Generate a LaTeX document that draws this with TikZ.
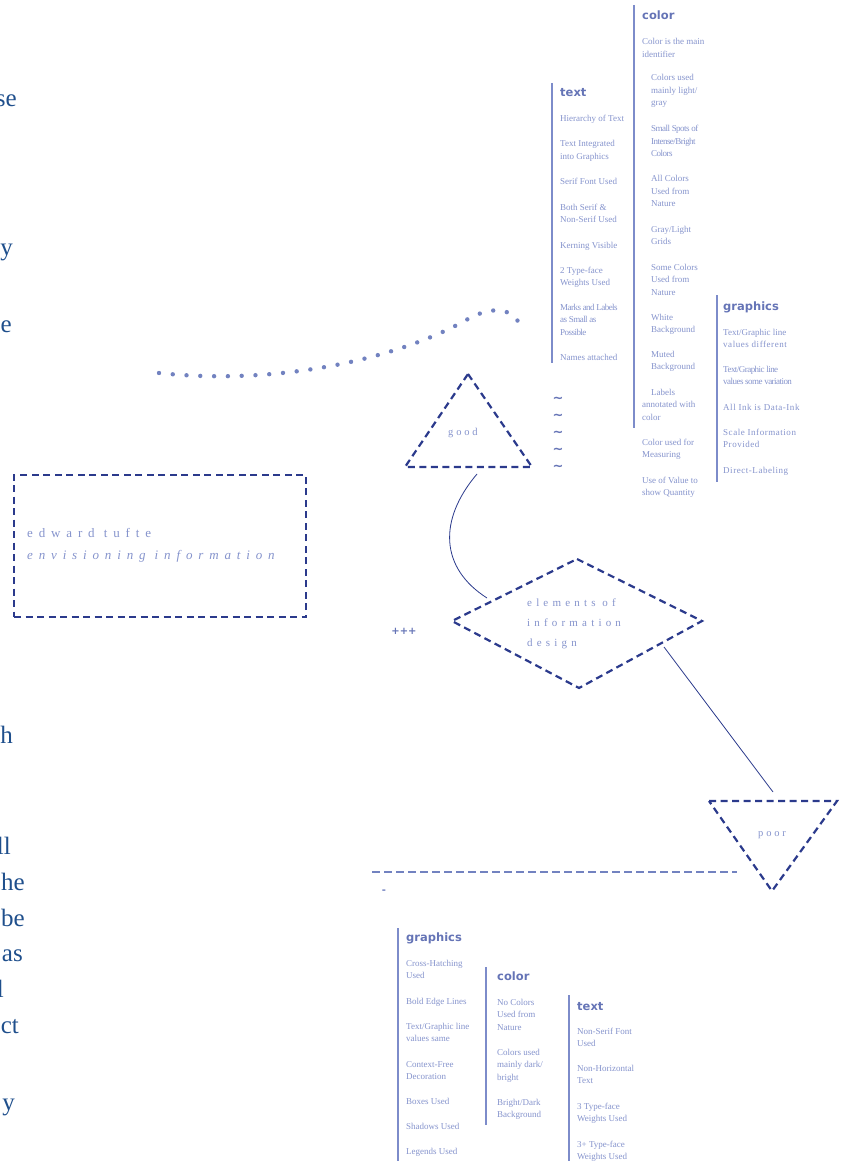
\documentclass[tikz,border=0pt]{standalone}
\usepackage{fontspec}
\setmainfont{Liberation Serif}
\newfontfamily\headfont{DejaVu Sans}
\newfontfamily\tightfont{Liberation Serif}[LetterSpace=-6]
\newfontfamily\loosefont{Liberation Serif}[LetterSpace=6]
\usetikzlibrary{positioning}
\usetikzlibrary{calc}
\definecolor{navy}{HTML}{2B3A8C}
\definecolor{headblue}{HTML}{6574B6}
\definecolor{listblue}{HTML}{8593CC}
\definecolor{barblue}{HTML}{7D8CCA}
\definecolor{dotblue}{HTML}{7282C0}
\definecolor{inkblue}{HTML}{1F4F8C}
\tikzset{colhead/.style={anchor=base west, inner sep=0pt, text=headblue, font=\headfont\bfseries\fontsize{11.5}{13}\selectfont}}
% base west of a list item is the baseline of its last line
\tikzset{listitem/.style={anchor=base west, inner sep=0pt, align=left, text=listblue, font=\fontsize{9}{12.5}\selectfont}}
\tikzset{colbar/.style={draw=barblue, line width=1.4pt}}
\tikzset{dashshape/.style={draw=navy, line width=2.2pt, dash pattern=on 7pt off 4.5pt}}
\tikzset{thinlink/.style={draw=navy, line width=0.8pt}}
\tikzset{spread/.style={inner sep=0pt, text=listblue}}
\tikzset{cutword/.style={anchor=base east, inner sep=0pt, text=inkblue, font=\fontsize{25}{30}\selectfont}}
\tikzset{mark sign/.style={inner sep=0pt, font=\headfont\bfseries\fontsize{10}{11}\selectfont}}

\begin{document}
\begin{tikzpicture}[x=1pt, y=-1pt]
        \useasboundingbox (0,0) rectangle (844,1161);

        % Cut words at the left edge
        \node[cutword] (cw1) at (17,107) {se};
        \node[cutword] (cw2) at (13,255) {y};
        \node[cutword] (cw3) at (12,332) {e};
        \node[cutword] (cw4) at (13,743) {h};
        \node[cutword] (cw5) at (11,854) {ll};
        \node[cutword] (cw6) at (25,890) {he};
        \node[cutword] (cw7) at (25,926) {be};
        \node[cutword] (cw8) at (23,961) {as};
        \node[cutword] (cw9) at (4,997) {l};
        \node[cutword] (cw10) at (19,1033) {ct};
        \node[cutword] (cw11) at (15,1110) {y};

        % Top columns
        \draw[colbar] (552,83) -- (552,363);
        \draw[colbar] (634,5) -- (634,428);
        \draw[colbar] (717,295) -- (717,482);

        \node[colhead] (texthead) at (560,97) {text};
        \node[listitem] (t1) at (560,122) {Hierarchy of Text};
        \node[listitem] (t2) at (560,159.5) {Text Integrated\\into Graphics};
        \node[listitem] (t3) at (560,185) {Serif Font Used};
        \node[listitem] (t4) at (560,222.5) {Both Serif \&\\Non-Serif Used};
        \node[listitem] (t5) at (560,248) {Kerning Visible};
        \node[listitem] (t6) at (560,285.5) {2 Type-face\\Weights Used};
        \node[listitem, font=\tightfont\fontsize{9}{12.5}\selectfont] (t7) at (560,335) {Marks and Labels\\as Small as\\Possible};
        \node[listitem] (t8) at (560,360) {Names attached};

        \node[colhead] (colorhead) at (642,20) {color};
        \node[listitem] (c1) at (642,57.5) {Color is the main\\identifier};
        \node[listitem] (c2) at (651,106) {Colors used\\mainly light/\\gray};
        \node[listitem, font=\tightfont\fontsize{9}{12.5}\selectfont] (c3) at (651,157) {Small Spots of\\Intense/Bright\\Colors};
        \node[listitem] (c4) at (651,207) {All Colors\\Used from\\Nature};
        \node[listitem] (c5) at (651,244.5) {Gray/Light\\Grids};
        \node[listitem] (c6) at (651,295) {Some Colors\\Used from\\Nature};
        \node[listitem] (c7) at (651,332.5) {White\\Background};
        \node[listitem] (c8) at (651,369.5) {Muted\\Background};
        \node[listitem] (c9) at (642,420) {\hspace{9pt}Labels\\annotated with\\color};
        \node[listitem] (c10) at (642,457.5) {Color used for\\Measuring};
        \node[listitem] (c11) at (642,495.5) {Use of Value to\\show Quantity};

        \node[colhead] (graphhead) at (723,310) {graphics};
        \node[listitem] (g1) at (723,347.5) {Text/Graphic line\\{\loosefont values different}};
        \node[listitem, font=\tightfont\fontsize{9}{12.5}\selectfont] (g2) at (723,384.5) {Text/Graphic line\\values some variation};
        \node[listitem, font=\loosefont\fontsize{9}{12.5}\selectfont] (g3) at (723,410) {All Ink is Data-Ink};
        \node[listitem, font=\loosefont\fontsize{9}{12.5}\selectfont] (g4) at (723,447.5) {Scale Information\\Provided};
        \node[listitem, font=\loosefont\fontsize{9}{12.5}\selectfont] (g5) at (723,473) {Direct-Labeling};

        % Wavy dots and tildes
        \coordinate (wavel) at (159,373);
        \coordinate (waver) at (521,328);
        \draw[dotblue, line width=4.4pt, line cap=round, dash pattern=on 0pt off 13.8pt]
            (wavel) .. controls (280,386) and (400,358) .. (468,319) .. controls (497,303) and (516,311) .. (waver);
        \foreach \ty in {400,417,434,451,468}
            \node[mark sign, text=headblue, font=\headfont\bfseries\fontsize{13}{14}\selectfont] (tl\ty) at (558,\ty) {\textasciitilde};

        % Good triangle
        \coordinate (goodtop) at (468,374);
        \coordinate (goodleft) at (405,467);
        \coordinate (goodright) at (532,467);
        \draw[dashshape] (goodtop) -- (goodright) -- (goodleft) -- cycle;
        \node[spread, anchor=base west, font=\fontsize{10.5}{12}\selectfont\addfontfeature{LetterSpace=27}] (good) at (448,435) {good};
        \coordinate (goodfoot) at (477,474);

        % Title box
        \node[dashshape, minimum width=292pt, minimum height=142pt, inner sep=0pt] (titlebox) at (160,546) {};
        \node[spread, anchor=base west, align=left, font=\fontsize{13}{22}\selectfont\addfontfeature{LetterSpace=45}] (author) at (27,559) {edward tufte\\\itshape\addfontfeature{LetterSpace=45}envisioning information};

        % Diamond
        \coordinate (designtop) at (577,559);
        \coordinate (designleft) at (452,621);
        \coordinate (designright) at (702,621);
        \coordinate (designbottom) at (579,688);
        \draw[dashshape] (designtop) -- (designright) -- (designbottom) -- (designleft) -- cycle;
        \node[spread, anchor=base west, align=left, font=\fontsize{11}{20}\selectfont\addfontfeature{LetterSpace=38}] (design) at (527,646) {elements of\\information\\design};
        \coordinate (designin) at (487,598);
        \coordinate (designout) at (664,647);
        \node[mark sign, text=headblue] (plus) at (404,631) {+++};

        % Poor triangle
        \coordinate (poorleft) at (709,801);
        \coordinate (poorright) at (837,801);
        \coordinate (poorbottom) at (772,891);
        \draw[dashshape] (poorleft) -- (poorright) -- (poorbottom) -- cycle;
        \node[spread, anchor=base west, font=\fontsize{10.5}{12}\selectfont\addfontfeature{LetterSpace=27}] (poor) at (758,836) {poor};
        \coordinate (poortop) at (773,792);

        % Links
        \draw[thinlink] (goodfoot) .. controls (438,520) and (440,568) .. (designin);
        \draw[thinlink] (designout) -- (poortop);

        % Rule
        \coordinate (rulel) at (372,872);
        \coordinate (ruler) at (737,872);
        \draw[dotblue, line width=2pt, dash pattern=on 8pt off 4pt] (rulel) -- (ruler);
        \node[mark sign, text=dotblue] (dash) at (384,892) {-};

        % Bottom columns
        \draw[colbar] (398,928) -- (398,1161);
        \draw[colbar] (486,967) -- (486,1125);
        \draw[colbar] (569,995) -- (569,1161);

        \node[colhead] (graphhead2) at (406,941) {graphics};
        \node[listitem] (p1) at (406,978.5) {Cross-Hatching\\Used};
        \node[listitem] (p2) at (406,1004) {Bold Edge Lines};
        \node[listitem] (p3) at (406,1041.5) {Text/Graphic line\\values same};
        \node[listitem] (p4) at (406,1079.5) {Context-Free\\Decoration};
        \node[listitem] (p5) at (406,1104) {Boxes Used};
        \node[listitem] (p6) at (406,1129) {Shadows Used};
        \node[listitem] (p7) at (406,1154) {Legends Used};

        \node[colhead] (colorhead2) at (497,980) {color};
        \node[listitem] (q1) at (497,1030) {No Colors\\Used from\\Nature};
        \node[listitem] (q2) at (497,1080) {Colors used\\mainly dark/\\bright};
        \node[listitem] (q3) at (497,1117.5) {Bright/Dark\\Background};

        \node[colhead] (texthead2) at (577,1010) {text};
        \node[listitem] (r1) at (577,1046.5) {Non-Serif Font\\Used};
        \node[listitem] (r2) at (577,1083.5) {Non-Horizontal\\Text};
        \node[listitem] (r3) at (577,1121.5) {3 Type-face\\Weights Used};
        \node[listitem] (r4) at (577,1159.5) {3+ Type-face\\Weights Used};
    \end{tikzpicture}
\end{document}
